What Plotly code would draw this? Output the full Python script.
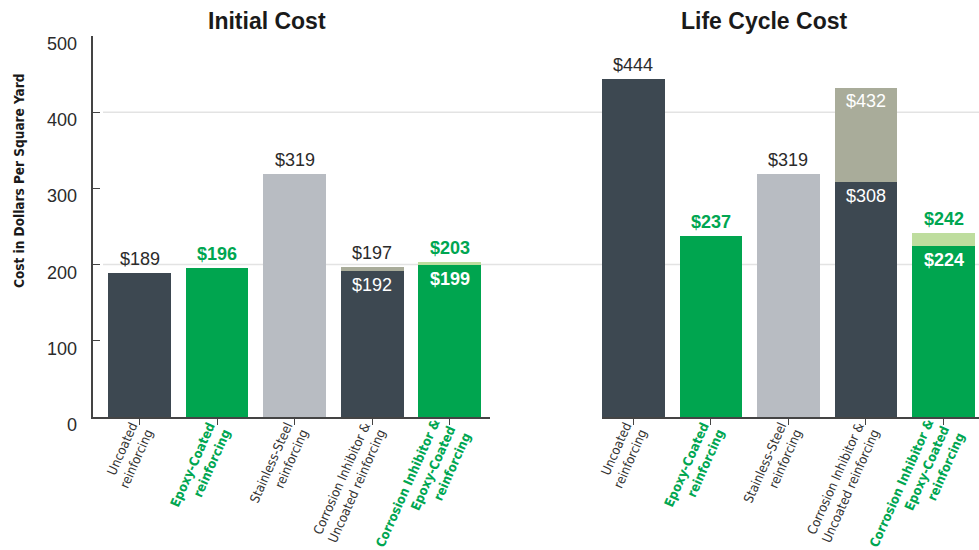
import plotly.graph_objects as go

# ---------------- data ----------------
categories = [
    "Uncoated<br>reinforcing",
    "Epoxy-Coated<br>reinforcing",
    "Stainless-Steel<br>reinforcing",
    "Corrosion Inhibitor &<br>Uncoated reinforcing",
    "Corrosion Inhibitor &<br>Epoxy-Coated<br>reinforcing",
]
is_epoxy = [False, True, False, False, True]

initial_base = [189, 196, 319, 192, 199]
initial_total = [189, 196, 319, 197, 203]
life_base = [444, 237, 319, 308, 224]
life_total = [444, 237, 319, 432, 242]

y_ticks = [0, 100, 200, 300, 400, 500]
grid_vals = [200, 400]

# ---------------- styles ----------------
DARK = "#3d4851"
GREEN = "#00a54f"
LGRAY = "#b8bcc2"
GRAYGREEN = "#a9ac9a"
LGREEN = "#bedd9e"
TXT = "#2b2b2b"
TXTGREEN = "#00a651"

base_colors = [DARK, GREEN, LGRAY, DARK, GREEN]
top_colors = [DARK, GREEN, LGRAY, GRAYGREEN, LGREEN]

W, H = 979, 550
FONT = "Liberation Sans, Arial, sans-serif"
NARROW = "DejaVu Sans Condensed, Liberation Sans Narrow, sans-serif"

idx = list(range(len(categories)))

def tick_text(c, e):
    if e:
        return "<b><span style='color:%s'>%s</span></b>" % (TXTGREEN, c)
    return "<span style='color:%s'>%s</span>" % ("#333333", c)

ticktext = [tick_text(c, e) for c, e in zip(categories, is_epoxy)]

fig = go.Figure()

for base, total, xa, ya in [(initial_base, initial_total, "x", "y"),
                            (life_base, life_total, "x2", "y2")]:
    fig.add_trace(go.Bar(x=idx, y=base, marker=dict(color=base_colors, line=dict(width=0)),
                         xaxis=xa, yaxis=ya, showlegend=False, hoverinfo="skip"))
    fig.add_trace(go.Bar(x=idx, y=[t - b for t, b in zip(total, base)],
                         marker=dict(color=top_colors, line=dict(width=0)),
                         xaxis=xa, yaxis=ya, showlegend=False, hoverinfo="skip"))

annotations = []
for base, total, xa, ya in [(initial_base, initial_total, "x", "y"),
                            (life_base, life_total, "x2", "y2")]:
    for i in idx:
        e = is_epoxy[i]
        label = "$%d" % total[i]
        inside = (total[i] - base[i]) > 40
        annotations.append(dict(
            x=i, y=total[i], xref=xa, yref=ya,
            text=("<b>%s</b>" % label) if e else label,
            showarrow=False, xanchor="center", yanchor="middle",
            yshift=-13 if inside else 14,
            font=dict(family=FONT, size=18,
                      color="white" if inside else (TXTGREEN if e else TXT)),
        ))
        if total[i] != base[i]:
            lb = "$%d" % base[i]
            annotations.append(dict(
                x=i, y=base[i], xref=xa, yref=ya,
                text=("<b>%s</b>" % lb) if e else lb,
                showarrow=False, xanchor="center", yanchor="middle", yshift=-14,
                font=dict(family=FONT, size=18, color="white"),
            ))

# y tick labels (slightly below tick marks as in the reference)
for t in y_ticks:
    annotations.append(dict(
        x=79 / W, y=t, xref="paper", yref="y", text=str(t), showarrow=False,
        xanchor="right", yanchor="middle", yshift=-8,
        font=dict(family=FONT, size=18, color=TXT),
    ))

# titles
annotations.append(dict(x=267 / W, y=1 - 21 / H, xref="paper", yref="paper",
                        xanchor="center", yanchor="middle",
                        text="<b>Initial Cost</b>", showarrow=False,
                        font=dict(family=FONT, size=23, color="#1a1a1a")))
annotations.append(dict(x=764 / W, y=1 - 21 / H, xref="paper", yref="paper",
                        xanchor="center", yanchor="middle",
                        text="<b>Life Cycle Cost</b>", showarrow=False,
                        font=dict(family=FONT, size=23, color="#1a1a1a")))
annotations.append(dict(x=19 / W, y=1 - 181 / H, xref="paper", yref="paper",
                        xanchor="center", yanchor="middle",
                        text="<b>Cost in Dollars Per Square Yard</b>", showarrow=False,
                        textangle=-90,
                        font=dict(family=NARROW, size=13.5, color="#1a1a1a")))

shapes = []
for g in grid_vals:
    shapes.append(dict(type="line", xref="paper", yref="y", x0=103 / W, x1=1, y0=g, y1=g,
                       line=dict(color="#e3e3e3", width=1.5), layer="below"))

ydom = [(H - 417) / H, (H - 36) / H]
xcommon = dict(tickmode="array", tickvals=idx, ticktext=ticktext, tickangle=-66,
               ticks="outside", ticklen=6, tickcolor="#444", showline=True,
               linecolor="#444", linewidth=1.5, showgrid=False, zeroline=False,
               ticklabelstandoff=-8,
               tickfont=dict(family=NARROW, size=13), fixedrange=True, automargin=False)

fig.update_layout(
    width=W, height=H,
    margin=dict(l=0, r=0, t=0, b=0),
    paper_bgcolor="white", plot_bgcolor="rgba(0,0,0,0)",
    barmode="stack", bargap=0.19,
    xaxis=dict(domain=[93 / W, 490 / W], range=[-0.6, 4.52], anchor="y", **xcommon),
    xaxis2=dict(domain=[602 / W, 1.0], range=[-0.406, 4.458], anchor="y2", **xcommon),
    yaxis=dict(domain=ydom, range=[0, 500], tickvals=y_ticks, showticklabels=False,
               ticks="inside", ticklen=7, tickcolor="#444", showline=True,
               linecolor="#444", linewidth=1.5, showgrid=False, zeroline=False,
               anchor="x", automargin=False, fixedrange=True),
    yaxis2=dict(domain=ydom, range=[0, 500], showticklabels=False, showline=False,
                showgrid=False, zeroline=False, anchor="x2", matches="y", automargin=False),
    annotations=annotations,
    shapes=shapes,
)

fig.write_html("out.html", config={"displayModeBar": False},
               post_script="document.body.style.margin='0';document.body.style.overflow='hidden';")
